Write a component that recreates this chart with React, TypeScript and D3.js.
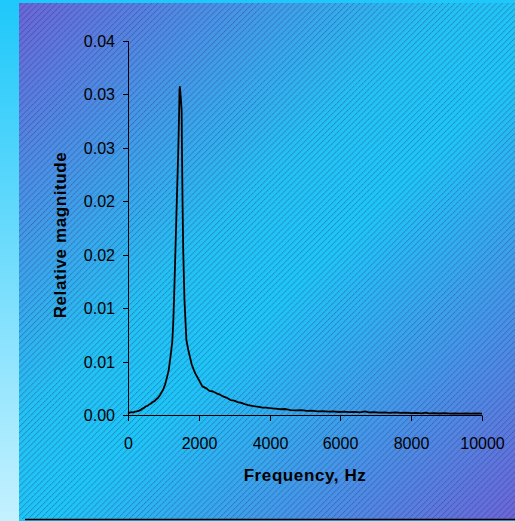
import React from "react";
import * as d3 from "d3";

const freqHz = [0, 50, 100, 150, 200, 250, 300, 350, 400, 450, 500, 550, 600, 650, 700, 750, 800, 850, 900, 950, 1000, 1050, 1100, 1150, 1200, 1250, 1280, 1300, 1340, 1380, 1420, 1445, 1455, 1465, 1490, 1515, 1525, 1540, 1560, 1595, 1650, 1700, 1750, 1800, 1850, 1900, 2000, 2100, 2200, 2300, 2400, 2500, 2600, 2700, 2800, 2900, 3000, 3100, 3200, 3300, 3400, 3500, 3600, 3700, 3800, 3900, 4000, 4150, 4300, 4450, 4600, 4750, 4900, 5050, 5200, 5350, 5500, 5650, 5800, 5950, 6100, 6250, 6400, 6550, 6700, 6800, 6950, 7100, 7250, 7400, 7550, 7700, 7850, 8000, 8150, 8300, 8400, 8500, 8650, 8800, 8950, 9100, 9250, 9400, 9550, 9700, 9850, 10000];
const magnitude = [0.000175, 0.00023, 0.00026, 0.00024, 0.00031, 0.00034, 0.00039, 0.00045, 0.00058, 0.00067, 0.0008, 0.00085, 0.00099, 0.00108, 0.00122, 0.0013, 0.00148, 0.00161, 0.00185, 0.00213, 0.00242, 0.00288, 0.0035, 0.0042, 0.00543, 0.00683, 0.00875, 0.01076, 0.0154, 0.02013, 0.02476, 0.02844, 0.03045, 0.03071, 0.02975, 0.02853, 0.02476, 0.02013, 0.0154, 0.01076, 0.007, 0.00613, 0.00543, 0.00473, 0.00429, 0.00389, 0.0033, 0.00268, 0.00252, 0.00226, 0.0022, 0.00203, 0.0019, 0.00172, 0.0016, 0.0014, 0.00134, 0.0012, 0.00114, 0.00101, 0.00092, 0.00086, 0.0008, 0.00076, 0.00069, 0.00069, 0.00065, 0.0006, 0.00054, 0.00056, 0.00046, 0.00043, 0.00045, 0.00038, 0.0004, 0.00034, 0.00036, 0.00031, 0.00033, 0.00028, 0.00031, 0.00026, 0.00029, 0.00025, 0.00033, 0.00024, 0.00027, 0.00022, 0.00025, 0.0002, 0.00024, 0.00019, 0.00022, 0.00018, 0.0002, 0.00016, 0.00023, 0.00015, 0.00018, 0.00014, 0.00017, 0.00013, 0.00016, 0.00012, 0.00015, 0.00012, 0.00014, 0.00012];

const xTicks = [0, 2000, 4000, 6000, 8000, 10000];
const xTickLabels = ["0", "2000", "4000", "6000", "8000", "10000"];
const yTicks = [0, 0.005, 0.01, 0.015, 0.02, 0.025, 0.03, 0.035];
const yTickLabels = ["0.00", "0.01", "0.01", "0.02", "0.02", "0.03", "0.03", "0.04"];

const xTitle = "Frequency, Hz";
const yTitle = "Relative magnitude";

export default function App() {
  const W = 515;
  const H = 521;
  const x = d3.scaleLinear().domain([0, 10000]).range([128, 482]);
  const y = d3.scaleLinear().domain([0, 0.035]).range([415, 41]);
  const pts: [number, number][] = freqHz.map((f, i) => [f, magnitude[i]]);
  const line = d3
    .line<[number, number]>()
    .x((d) => x(d[0]))
    .y((d) => y(d[1]));
  const font = "'Liberation Sans', Arial, sans-serif";
  return (
    <svg
      width={W}
      height={H}
      style={{ position: "fixed", left: 0, top: 0, display: "block" }}
    >
      <defs>
        <linearGradient id="side" x1="0" y1="0" x2="0" y2="1">
          <stop offset="0" stopColor="#1ec8fa" />
          <stop offset="1" stopColor="#c4f1ff" />
        </linearGradient>
        <linearGradient id="panel" gradientUnits="userSpaceOnUse" x1="19" y1="3" x2="515" y2="519">
          <stop offset="0" stopColor="#6c66d8" />
          <stop offset="0.42" stopColor="#24c2f4" />
          <stop offset="0.55" stopColor="#1ec6f8" />
          <stop offset="1" stopColor="#6c66d8" />
        </linearGradient>
        <pattern id="hatch" width="4.2" height="4.2" patternUnits="userSpaceOnUse" patternTransform="rotate(45)">
          <line x1="0.5" y1="0" x2="0.5" y2="4.2" stroke="#1a2a6a" strokeWidth="1" strokeOpacity="0.38" strokeDasharray="1 0.5" />
        </pattern>
      </defs>
      <rect x={0} y={0} width={W} height={H} fill="#1ec8fa" />
      <rect x={0} y={0} width={19} height={H} fill="url(#side)" />
      <rect x={19} y={3} width={W - 19} height={516} fill="url(#panel)" />
      <rect x={19} y={3} width={W - 19} height={516} fill="url(#hatch)" />
      <line x1={25} x2={W} y1={519.5} y2={519.5} stroke="#000" strokeWidth={1.5} />

      <line x1={128.5} x2={128.5} y1={y(0.035)} y2={y(0)} stroke="#000" strokeWidth={1} />
      <line x1={x(0)} x2={x(10000)} y1={415.5} y2={415.5} stroke="#000" strokeWidth={1} />
      {yTicks.map((t, i) => (
        <g key={"yt" + i} transform={`translate(0,${Math.round(y(t)) + 0.5})`}>
          <line x1={123} x2={128.5} stroke="#000" strokeWidth={1} />
          <text x={115} dy="0.36em" textAnchor="end" fontFamily={font} fontSize={16} fill="#000">
            {yTickLabels[i]}
          </text>
        </g>
      ))}
      {xTicks.map((t, i) => (
        <g key={"xt" + i} transform={`translate(${Math.round(x(t)) + 0.5},0)`}>
          <line y1={415.5} y2={421} stroke="#000" strokeWidth={1} />
          <text y={449} textAnchor="middle" fontFamily={font} fontSize={16} fill="#000">
            {xTickLabels[i]}
          </text>
        </g>
      ))}
      <path d={line(pts) || ""} fill="none" stroke="#000" strokeWidth={1.8} strokeLinejoin="round" />
      <text
        x={305}
        y={481}
        textAnchor="middle"
        fontFamily={font}
        fontSize={17}
        fontWeight="bold"
        letterSpacing={0.6}
        fill="#000"
      >
        {xTitle}
      </text>
      <text
        transform={`translate(66,235) rotate(-90)`}
        textAnchor="middle"
        fontFamily={font}
        fontSize={17}
        fontWeight="bold"
        letterSpacing={0.6}
        fill="#000"
      >
        {yTitle}
      </text>
    </svg>
  );
}
